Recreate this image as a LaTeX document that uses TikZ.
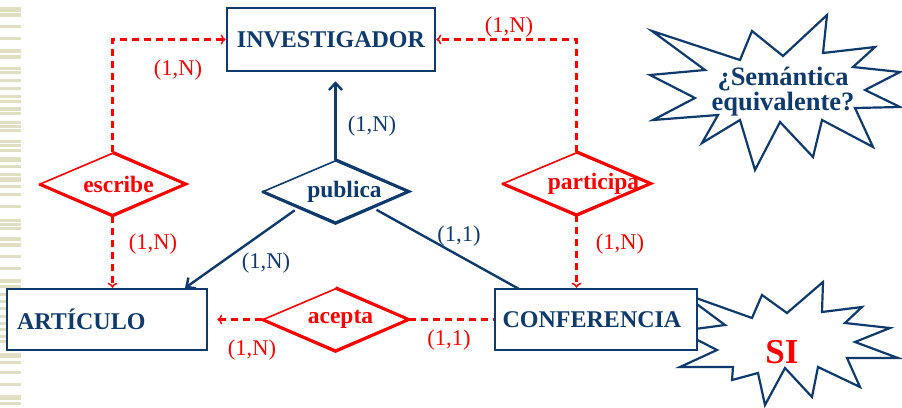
\documentclass[tikz,border=0pt]{standalone}
\usepackage{fontspec}
\setmainfont{Liberation Serif}
\usetikzlibrary{shapes.geometric,arrows.meta,calc}
\definecolor{navy}{RGB}{14,58,110}
\definecolor{erred}{RGB}{255,0,0}
\definecolor{stripe}{RGB}{224,223,196}
\newcommand{\shiftedtext}[2]{\makebox[0pt]{\hspace*{#1}#2}}
\begin{document}
\begin{tikzpicture}[x=1pt,y=-1pt,
  entity/.style={draw=navy,line width=2.5pt,fill=white,minimum height=61pt,inner sep=10pt,font=\fontsize{24}{28}\selectfont\bfseries,text=navy},
  rel/.style={shape=diamond,aspect=2.34,minimum width=145pt,minimum height=62pt,inner sep=0pt,line width=1.6pt,fill=white,font=\fontsize{23.5}{26}\selectfont\bfseries},
  redrel/.style={rel,draw=erred,text=erred},
  bluerel/.style={rel,draw=navy,text=navy},
  thickedge/.style={line width=3pt,line join=miter},
  card/.style={font=\fontsize{22.5}{24}\selectfont,inner sep=0pt},
  redcard/.style={card,text=erred},
  bluecard/.style={card,text=navy},
  dashlink/.style={draw=erred,line width=2.4pt,dash pattern=on 7pt off 5pt},
  redarrow/.style={dashlink,-{To[length=5pt,width=10pt,line width=1.5pt]}},
  bluelink/.style={draw=navy,line width=2.4pt},
  bluearrow/.style={bluelink,-{Straight Barb[length=7pt,width=13pt]}},
  starshape/.style={draw=navy,line width=2.2pt,fill=white,line join=miter}
]
\useasboundingbox (0,0) rectangle (902,407);
% left decorative stripes
\foreach \y/\h in {7/5,13/4,25/3,37/3,49/4,55/4,67/3,71/3,79/3,87/3,95/3,100/3,107/4,112/3,121/3,125/3,129/3,140/3,144/3,149/3,157/5,165/3,173/3,177/5,185/3,193/3,205/3,219/3,223/3,227/3,237/4,243/4,255/3,267/3,279/4,285/3,293/3,300/3,307/3,315/3,322/3,328/3,335/3,340/3,353/5,361/3,371/3,383/3,395/5,402/3}
  \fill[stripe] (0,\y) rectangle (21,{\y+\h});

% stars
\draw[starshape] (652,31) -- (740,60) -- (752,31) -- (783,56) -- (827,15) -- (823,53) -- (875,47) -- (853,67) -- (900,72) -- (865,90) -- (900,107) -- (855,108) -- (873,147) -- (822,120) -- (813,157) -- (780,122) -- (755,170) -- (740,120) -- (702,143) -- (718,115) -- (653,120) -- (695,98) -- (650,75) -- (705,70) -- cycle;
\draw[starshape] (680,367) -- (717,350) -- (680,331) -- (725,325) -- (682,293) -- (752,318) -- (762,295) -- (787,313) -- (823,282) -- (822,312) -- (862,307) -- (845,323) -- (890,328) -- (855,342) -- (898,358) -- (847,358) -- (860,387) -- (818,367) -- (812,397) -- (785,368) -- (765,405) -- (758,373) -- (732,380) -- (733,367) -- cycle;
\node[font=\fontsize{26.5}{23}\selectfont\bfseries,text=navy,align=center,inner sep=0pt] (q) at (783,92) {¿Semántica\\equivalente?};
\node[font=\fontsize{35}{36}\selectfont\bfseries,text=erred,inner sep=0pt] (si) at (782,352) {SI};

% entities
\node[entity,minimum width=208pt,minimum height=63pt] (inv) at (331,39.5) {INVESTIGADOR};
\node[entity,minimum width=200pt,text width=180pt,align=left] (art) at (107,319.5) {ARTÍCULO};
\node[entity,minimum width=202pt] (conf) at (596,319.5) {\shiftedtext{-8pt}{CONFERENCIA}};

% relationships
\node[redrel] (esc) at (112.5,184) {\shiftedtext{12pt}{escribe}};
\node[bluerel] (pub) at (335.5,191.5) {\shiftedtext{18pt}{publica}};
\node[redrel,minimum width=147pt] (par) at (576.5,183.5) {\shiftedtext{34pt}{participa}};
\node[redrel] (acp) at (335.5,319.5) {\shiftedtext{10pt}{acepta}};
\draw[thickedge,erred] (esc.north) -- (esc.east) -- (esc.south) -- (esc.west);
\draw[thickedge,navy] (pub.north) -- (pub.east) -- (pub.south) -- (pub.west);
\draw[thickedge,erred] (par.north) -- (par.east) -- (par.south) -- (par.west);
\draw[thickedge,erred] (acp.north) -- (acp.east) -- (acp.south) -- (acp.west);

\coordinate (artin) at (185,288);
\coordinate (confin) at (519,289);

% connectors
\draw[redarrow] (esc.north) |- (inv.west);
\draw[redarrow] (par.north) |- (inv.east);
\draw[redarrow] (esc.south) -- (esc.south |- art.north);
\draw[redarrow] (par.south) -- (par.south |- conf.north);
\draw[redarrow,shorten >=9pt] (acp.west) -- (art.east);
\draw[dashlink] (acp.east) -- (conf.west);
\draw[bluearrow,shorten >=9pt] (pub.north) -- (pub.north |- inv.south);
\draw[bluearrow,shorten <=5pt] (pub.south west) -- (artin);
\draw[bluelink,shorten <=5pt] (pub.south east) -- (confin);

% cardinalities
\node[redcard] (c1) at (178,70) {(1,N)};
\node[redcard] (c2) at (509,27) {(1,N)};
\node[bluecard] (c3) at (372,126) {(1,N)};
\node[redcard] (c4) at (153,244) {(1,N)};
\node[redcard] (c5) at (620,244) {(1,N)};
\node[bluecard] (c6) at (266,263) {(1,N)};
\node[bluecard] (c7) at (459,236) {(1,1)};
\node[redcard] (c8) at (252,350) {(1,N)};
\node[redcard] (c9) at (449,340) {(1,1)};
\end{tikzpicture}
\end{document}
